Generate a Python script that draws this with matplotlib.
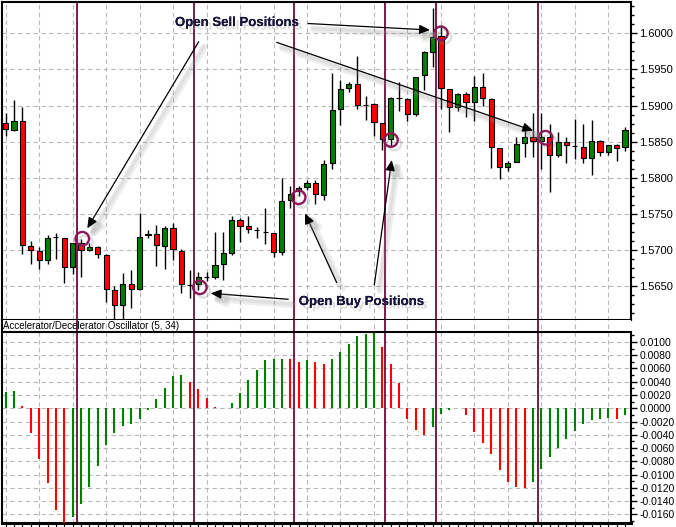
import matplotlib
matplotlib.use("Agg")
import matplotlib.pyplot as plt
import matplotlib.patheffects as pe
from matplotlib.ticker import FixedLocator, MultipleLocator
import numpy as np

# ---------------- data ----------------
opens = [1.58764, 1.58662, 1.58792, 1.57055, 1.56986, 1.56861, 1.57185, 1.57167, 1.56764, 1.57092,
         1.57000, 1.57042, 1.56935, 1.56444, 1.56236, 1.56532, 1.56458, 1.57200, 1.57222, 1.57060,
         1.57301, 1.56991, 1.56514, 1.56528, 1.56630, 1.56630, 1.56801, 1.56963, 1.57412, 1.57329,
         1.57273, 1.57250, 1.57231, 1.56968, 1.57690, 1.57810, 1.57870, 1.57926, 1.57764, 1.58208,
         1.58958, 1.59236, 1.59292, 1.59014, 1.59028, 1.58759, 1.58542, 1.59111, 1.59097, 1.58880,
         1.59421, 1.59745, 1.59963, 1.59222, 1.58981, 1.59153, 1.59051, 1.59255, 1.59093, 1.58407,
         1.58153, 1.58222, 1.58481, 1.58560, 1.58514, 1.58569, 1.58319, 1.58500, 1.58444, 1.58421,
         1.58273, 1.58505, 1.58361, 1.58454, 1.58421]
highs = [1.58894, 1.59074, 1.58977, 1.57125, 1.57042, 1.57204, 1.57236, 1.57170, 1.57097, 1.57157,
         1.57097, 1.57050, 1.56940, 1.56495, 1.56685, 1.56727, 1.57514, 1.57273, 1.57347, 1.57338,
         1.57370, 1.57010, 1.56722, 1.56694, 1.56690, 1.57250, 1.57250, 1.57463, 1.57444, 1.57472,
         1.57324, 1.57579, 1.57240, 1.57991, 1.57889, 1.57890, 1.57972, 1.57970, 1.58250, 1.59454,
         1.59352, 1.59329, 1.59680, 1.59130, 1.59030, 1.58760, 1.59120, 1.59329, 1.59100, 1.59400,
         1.59750, 1.60347, 1.60116, 1.59230, 1.59180, 1.59190, 1.59407, 1.59454, 1.59100, 1.58410,
         1.58236, 1.58560, 1.58708, 1.58894, 1.58894, 1.58745, 1.58630, 1.58560, 1.58815, 1.58745,
         1.58801, 1.58523, 1.58460, 1.58468, 1.58699]
lows = [1.58579, 1.58653, 1.56949, 1.56810, 1.56736, 1.56801, 1.56875, 1.56542, 1.56667, 1.56625,
        1.56981, 1.56889, 1.56282, 1.55997, 1.56006, 1.56194, 1.56450, 1.57167, 1.56773, 1.56736,
        1.56861, 1.56398, 1.56329, 1.56444, 1.56570, 1.56593, 1.56583, 1.56931, 1.57116, 1.57231,
        1.57162, 1.57079, 1.56898, 1.56931, 1.57579, 1.57740, 1.57833, 1.57634, 1.57685, 1.58125,
        1.58736, 1.59190, 1.58958, 1.58806, 1.58574, 1.58380, 1.58426, 1.58926, 1.58787, 1.58861,
        1.59213, 1.59537, 1.58958, 1.58634, 1.58926, 1.58843, 1.58787, 1.59000, 1.58134, 1.57981,
        1.58097, 1.58220, 1.58282, 1.58282, 1.58120, 1.57796, 1.58282, 1.58199, 1.58259, 1.58199,
        1.58042, 1.58306, 1.58320, 1.58236, 1.58375]
closes = [1.58671, 1.58792, 1.57069, 1.57000, 1.56861, 1.57167, 1.57185, 1.56764, 1.57097, 1.57000,
          1.57042, 1.56944, 1.56458, 1.56236, 1.56532, 1.56458, 1.57185, 1.57222, 1.57069, 1.57301,
          1.57009, 1.56528, 1.56514, 1.56630, 1.56630, 1.56787, 1.56954, 1.57412, 1.57338, 1.57287,
          1.57273, 1.57250, 1.56968, 1.57676, 1.57769, 1.57857, 1.57926, 1.57773, 1.58194, 1.58944,
          1.59222, 1.59292, 1.59014, 1.59014, 1.58773, 1.58542, 1.59106, 1.59111, 1.58889, 1.59398,
          1.59745, 1.59954, 1.59236, 1.58981, 1.59153, 1.59051, 1.59259, 1.59107, 1.58421, 1.58153,
          1.58208, 1.58468, 1.58560, 1.58514, 1.58560, 1.58319, 1.58500, 1.58458, 1.58444, 1.58273,
          1.58514, 1.58361, 1.58454, 1.58412, 1.58662]

ac_values = [0.00251, 0.00255, 0.00035, -0.00367, -0.00764, -0.01131, -0.01533, -0.01724, -0.01633, -0.01447,
             -0.01181, -0.00864, -0.00553, -0.00367, -0.00261, -0.00231, -0.00161, -0.00025, 0.00141, 0.00307,
             0.00492, 0.00503, 0.00402, 0.00291, 0.00151, 0.00025, 0.00000, 0.00085, 0.00236, 0.00427,
             0.00578, 0.00729, 0.00744, 0.00750, 0.00740, 0.00704, 0.00729, 0.00698, 0.00673, 0.00744,
             0.00844, 0.00965, 0.01090, 0.01120, 0.01150, 0.00930, 0.00663, 0.00377, -0.00161, -0.00327,
             -0.00397, -0.00276, -0.00085, -0.00025, 0.00000, -0.00100, -0.00352, -0.00518, -0.00688, -0.00930,
             -0.01116, -0.01181, -0.01206, -0.01106, -0.00910, -0.00729, -0.00593, -0.00467, -0.00337, -0.00241,
             -0.00176, -0.00161, -0.00151, -0.00161, -0.00100]

price_ticks = [1.5650, 1.5700, 1.5750, 1.5800, 1.5850, 1.5900, 1.5950, 1.6000]
osc_ticks = [-0.016, -0.014, -0.012, -0.010, -0.008, -0.006, -0.004, -0.002, 0.000,
             0.002, 0.004, 0.006, 0.008, 0.010]

# signal markers (bar index, price) and signal vertical lines (bar index)
signal_x = [9.15, 23.2, 35.0, 46.03, 52.0, 64.5]
signal_price = [1.57155, 1.56482, 1.57729, 1.58522, 1.60000, 1.58554]
signal_lines = [8.55, 22.46, 34.5, 45.3, 51.4, 63.6]

sell_label = "Open Sell Positions"
buy_label = "Open Buy Positions"
sell_label_pos = (27.63, 1.60143)
buy_label_pos = (42.5, 1.56278)
sell_arrows = [((23.06, 1.59884), (9.75, 1.57299)),
               ((36.12, 1.60136), (50.69, 1.60046)),
               ((32.38, 1.59875), (63.03, 1.58651))]
buy_arrows = [((33.76, 1.56316), (24.49, 1.56399)),
              ((39.55, 1.56546), (35.76, 1.57507)),
              ((44.04, 1.56514), (46.12, 1.58245))]

osc_label = "Accelerator/Decelerator Oscillator (5, 34)"

# ---------------- figure ----------------
W, H = 676, 527
fig = plt.figure(figsize=(W / 100, H / 100), dpi=100, facecolor="white")


def px_rect(l, t, r, b):
    return [l / W, 1 - b / H, (r - l) / W, (b - t) / H]


ax = fig.add_axes(px_rect(2, 2, 631, 320))
ax2 = fig.add_axes(px_rect(2, 320, 631, 523))

o = np.array(opens)
h = np.array(highs)
l = np.array(lows)
c = np.array(closes)
x = np.arange(len(o))
xlim = (-0.44, 74.71)

GREEN = "#008000"
RED = "#ff0000"
VLINE = "#6e0b3c"
GRID = "#b8b8b8"
TICKFONT = "Liberation Sans"

# candles
ax.vlines(x, l, h, color="black", lw=1.0, zorder=3)
body_col = np.where(c > o, GREEN, np.where(c < o, RED, "black"))
ax.bar(x, np.abs(c - o), bottom=np.minimum(o, c), width=0.62, color=body_col,
       edgecolor="black", linewidth=0.8, zorder=4)

ax.set_xlim(*xlim)
ax.set_ylim(1.56029, 1.60434)
ax.set_xticks(np.arange(0, 75, 4))
ax.tick_params(axis="x", length=0, labelbottom=False)
ax.yaxis.tick_right()
ax.set_yticks(price_ticks)
ax.set_yticklabels([f"{v:.4f}" for v in price_ticks])
ax.yaxis.set_minor_locator(MultipleLocator(0.00125))
ax.tick_params(axis="y", which="major", length=4, width=1, direction="out", pad=2,
               labelsize=8, labelfontfamily=TICKFONT)
ax.tick_params(axis="y", which="minor", length=2, width=1, direction="out")
ax.grid(True, which="major", color=GRID, linestyle=(0, (4, 3)), lw=0.8)
ax.set_axisbelow(True)
for s in ax.spines.values():
    s.set_linewidth(1.5)

for v in signal_lines:
    ax.axvline(v, color=VLINE, lw=1.3, zorder=2)
    ax2.axvline(v, color=VLINE, lw=1.3, zorder=2)

# signal circles
ax.scatter(signal_x, signal_price, s=95, facecolors="none", edgecolors="#8a1a5a",
           linewidths=1.7, zorder=6,
           path_effects=[pe.SimpleLineShadow(offset=(2.5, -2.5), shadow_color="#808080", alpha=0.25),
                         pe.Normal()])

# annotations
txt_effects = [pe.withSimplePatchShadow(offset=(2.5, -2.5), shadow_rgbFace="#a0a0a0", alpha=0.4),
               pe.Normal()]
for label, pos in ((sell_label, sell_label_pos), (buy_label, buy_label_pos)):
    ax.text(pos[0], pos[1], label, ha="center", va="center", fontsize=9.5,
            fontweight="bold", family="Liberation Sans", color="#14143c", zorder=8,
            path_effects=txt_effects, clip_on=False)

for start, tip in sell_arrows + buy_arrows:
    ann = ax.annotate("", xy=tip, xytext=start, annotation_clip=False, zorder=7,
                      arrowprops=dict(arrowstyle="-|>,head_length=0.45,head_width=0.2",
                                      color="black", lw=0.9, shrinkA=0, shrinkB=0,
                                      mutation_scale=14))
    ann.arrow_patch.set_path_effects([
        pe.SimpleLineShadow(offset=(4, -4), shadow_color="#909090", alpha=0.15, linewidth=5),
        pe.SimpleLineShadow(offset=(3.5, -3.5), shadow_color="#909090", alpha=0.15, linewidth=2.5),
        pe.Normal()])

# ---------------- oscillator ----------------
ac = np.array(ac_values)
ac_col = [GREEN] + [GREEN if ac[i] > ac[i - 1] else RED for i in range(1, len(ac))]
ax2.vlines(x, 0, ac, colors=ac_col, lw=1.5, zorder=3)
ax2.set_xlim(*xlim)
ax2.set_ylim(-0.01729, 0.01331)
ax2.axhline(0.0115, color="black", lw=1.5, zorder=5)
ax2.xaxis.set_major_locator(FixedLocator(np.arange(0, 75, 4)))
ax2.xaxis.set_minor_locator(FixedLocator(np.arange(0, 75, 1)))
ax2.tick_params(axis="x", which="both", length=3, width=0.8, direction="out", labelbottom=False)
ax2.yaxis.tick_right()
ax2.set_yticks(osc_ticks)
ax2.set_yticklabels([f"{v:.4f}" for v in osc_ticks])
ax2.yaxis.set_minor_locator(FixedLocator(np.arange(-0.017, 0.0115, 0.001)))
ax2.tick_params(axis="y", which="major", length=4, width=1, direction="out", pad=2,
                labelsize=7.5, labelfontfamily=TICKFONT)
ax2.tick_params(axis="y", which="minor", length=2, width=1, direction="out")
ax2.grid(True, which="major", color=GRID, linestyle=(0, (4, 3)), lw=0.8)
ax2.set_axisbelow(True)
ax2.spines["top"].set_visible(False)
ax2.spines["left"].set_linewidth(1.5)
ax2.spines["right"].set_linewidth(1.5)
ax2.spines["right"].set_bounds(-0.01729, 0.0115)
ax2.spines["bottom"].set_linewidth(2.2)
ax2.text(0.002, 0.01245, osc_label, transform=ax2.get_yaxis_transform(), ha="left",
         va="center", fontsize=7, family="Liberation Sans", color="black", zorder=6)

fig.savefig("out.png", dpi=100, facecolor="white")
